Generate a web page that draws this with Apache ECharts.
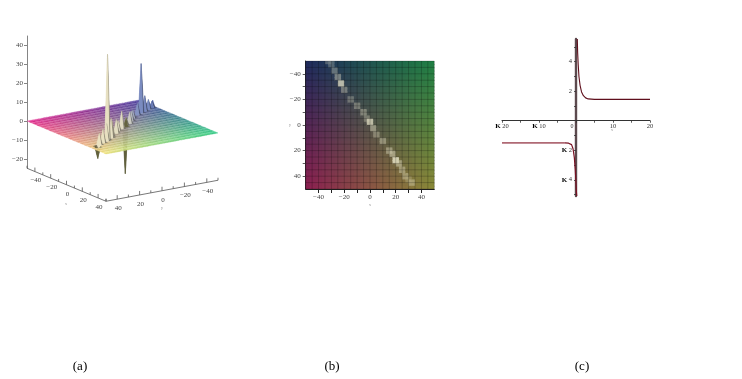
<!DOCTYPE html>
<html>
<head>
<meta charset="utf-8">
<style>html,body{margin:0;padding:0;background:#fff}#main{width:742px;height:379px;filter:blur(0.35px)}</style>
<script src="https://cdn.jsdelivr.net/npm/echarts@6/dist/echarts.min.js"></script>
</head>
<body>
<div id="main"></div>
<script>
// ---- data ----
var surfaceAxis = [];            // grid nodes of the surface, filled just below
for (var n = -50; n <= 50; n += 2.5) surfaceAxis.push(n);
var ridgeX = [-32.5,-30,-27.5,-25,-22.5,-20,-15,-10,-5,-2.5,0,2.5,5,10,15,17.5,20,22.5,25,27.5,30,32.5];
var ridgeY = [-50,-47.5,-42.5,-37.5,-32.5,-27.5,-20,-15,-10,-5,-2.5,2.5,7.5,12.5,20,22.5,27.5,30,35,40,42.5,45];
var ridgeZ = [3,3,5,8,26,6,4,5,6,4,-25,9,5,7,8,10,45,9,7,6,-2,-6];
var boxTicks = [-50,-40,-30,-20,-10,0,10,20,30,40,50];
var boxLabels = [-40,-20,0,20,40];
var zTicks = [-20,-10,0,10,20,30,40];
var mapLines = [-50,-45,-40,-35,-30,-25,-20,-15,-10,-5,0,5,10,15,20,25,30,35,40,45,50];
var rightX = [0.35,0.45,0.6,0.8,1.1,1.5,2,2.6,3.3,5,10,20];
var rightY = [5.54,4.6,3.8,3.0,2.4,1.95,1.7,1.55,1.48,1.45,1.45,1.45];
var leftFlatX = [-20,-10,-3];
var leftFlatY = [-1.5,-1.5,-1.5];
var leftBendX = [-3,-2,-1.2,-0.8,-0.45,-0.2,-0.05,0.1,0.2];
var leftBendY = [-1.5,-1.52,-1.62,-1.9,-2.5,-3.3,-4,-4.8,-5.1];
var curveXTicks = [-20,-15,-10,-5,0,5,10,15,20];
var curveXLabels = [-20,-10,0,10,20];
var curveYTicks = [-5,-4,-3,-2,-1,1,2,3,4,5];
var curveYLabels = [-4,-2,2,4];
var captions = ['(a)','(b)','(c)'];

// ---- surface table built from the arrays above ----
function nodeIndex(v){ return Math.round((v + 50) / 2.5); }
var zTable = surfaceAxis.map(function(){ return surfaceAxis.map(function(){ return 0; }); });
ridgeX.forEach(function(x, k){ zTable[nodeIndex(x)][nodeIndex(ridgeY[k])] = ridgeZ[k]; });
var quads = [];
for (var i = 0; i < surfaceAxis.length - 1; i++) {
  for (var j = 0; j < surfaceAxis.length - 1; j++) {
    quads.push([surfaceAxis[i], surfaceAxis[j], zTable[i][j], zTable[i+1][j], zTable[i+1][j+1], zTable[i][j+1], i]);
  }
}

// ---- view of panel (a) and colours ----
var serif = '"Liberation Serif", serif';
function proj(x, y, z){ return [122.5 + 0.79*x - 1.12*y, 127 + 0.33*x + 0.21*y - 1.89*z]; }
function hex(c){ return [parseInt(c.substr(1,2),16),parseInt(c.substr(3,2),16),parseInt(c.substr(5,2),16)]; }
function mix(a,b,t){ return [a[0]+(b[0]-a[0])*t, a[1]+(b[1]-a[1])*t, a[2]+(b[2]-a[2])*t]; }
function css(c){ return 'rgb('+Math.round(c[0])+','+Math.round(c[1])+','+Math.round(c[2])+')'; }
function corner(c, x, y){ // c = [x-,y-], [x+,y-], [x-,y+], [x+,y+]
  var s=(x+50)/100, t=(y+50)/100;
  return mix(mix(c[0],c[1],s), mix(c[2],c[3],s), t);
}
var surfCorners = [hex('#4436a0'),hex('#30d488'),hex('#e8208c'),hex('#f8ee80')];
var mapCorners  = [hex('#1e2a5c'),hex('#1f7f44'),hex('#8c1f50'),hex('#8a8a38')];
var pale = hex('#ece8cc'), paleBack = hex('#7f92c8'), white = [255,255,255], dark = hex('#45451f'), black=[0,0,0];

function renderSurface(params, api){
  var x=api.value(0), y=api.value(1), z1=api.value(2), z2=api.value(3), z3=api.value(4), z4=api.value(5), i=api.value(6);
  var pts=[proj(x,y,z1),proj(x+2.5,y,z2),proj(x+2.5,y+2.5,z3),proj(x,y+2.5,z4)].map(function(p){return api.coord(p);});
  var base=corner(surfCorners,x+1.25,y+1.25);
  var flat=(z1===0&&z2===0&&z3===0&&z4===0);
  var col;
  if(flat){
    col = (i%2===0) ? mix(base,white,0.2) : mix(base,black,0.06);
  } else {
    var gx=((z2+z3)-(z1+z4))/5, gy=((z3+z4)-(z1+z2))/5;
    var steep=Math.min(1,Math.sqrt(gx*gx+gy*gy)/1.2);
    var tint=mix(paleBack,pale,Math.min(1,Math.max(0,(y+30)/25)));
    col=mix(base,tint,steep*0.85);
    var du=-0.79*gx+1.12*gy, dl=Math.sqrt(gx*gx+gy*gy)*1.37||1;
    col=mix(col,black,Math.max(0,du/dl)*0.5);
    if(Math.min(z1,z2,z3,z4)<-3) col=mix(col,dark,0.8);
  }
  var c=css(col);
  return {type:'polygon',shape:{points:pts},style:{fill:c,stroke:c,lineWidth:0.3}};
}
function axisPiece(api, a, b){
  var p=api.coord(a), q=api.coord(b);
  return {type:'line',shape:{x1:p[0],y1:p[1],x2:q[0],y2:q[1]},style:{stroke:'#555',lineWidth:0.8}};
}
function boxTickRender(which){
  return function(params, api){
    var t=api.value(0), zBottom=-25;
    var pos=(which==='x')?proj(t,50,zBottom):proj(50,t,zBottom);
    var major=boxLabels.indexOf(t)>=0;
    var top=[pos[0],pos[1]-(major?4:2.5)];
    var kids=[axisPiece(api,pos,top)];
    if(major){
      var c=api.coord([pos[0]+1,pos[1]+9]);
      kids.push({type:'text',style:{text:(t<0?'\u2212':'')+Math.abs(t),x:c[0],y:c[1],align:'center',verticalAlign:'middle',font:'7px '+serif,fill:'#444'}});
    }
    return {type:'group',children:kids};
  };
}
function renderBoxLine(params, api){
  return {type:'group',children:[
    axisPiece(api,proj(-50,50,-25),proj(50,50,-25)),
    axisPiece(api,proj(50,50,-25),proj(50,-50,-25))
  ]};
}
function nodeZ(x,y){ return zTable[nodeIndex(x)][nodeIndex(y)]; }
function renderCell(params, api){
  var x=api.value(0), y=api.value(1);
  var p=api.coord([x,y]), q=api.coord([Math.min(x+3.2,50),Math.min(y+3.2,50)]);
  var m=(Math.abs(nodeZ(x,y))+Math.abs(nodeZ(x+2.5,y))+Math.abs(nodeZ(x+2.5,y+2.5))+Math.abs(nodeZ(x,y+2.5)))/4;
  var col=mix(corner(mapCorners,x+1.25,y+1.25),pale,Math.min(0.8,0.28*Math.sqrt(m)));
  return {type:'rect',shape:{x:p[0],y:p[1],width:q[0]-p[0],height:q[1]-p[1]},style:{fill:css(col)}};
}
function renderMapLine(params, api){
  var v=api.value(0);
  var a=api.coord([v,-50]), b=api.coord([v,50]), c=api.coord([-50,v]), d=api.coord([50,v]);
  var st={stroke:'rgba(0,0,0,0.25)',lineWidth:0.8};
  return {type:'group',children:[
    {type:'line',shape:{x1:a[0],y1:a[1],x2:b[0],y2:b[1]},style:st},
    {type:'line',shape:{x1:c[0],y1:c[1],x2:d[0],y2:d[1]},style:st}
  ]};
}
var mapCells=[];
surfaceAxis.slice(0,-1).forEach(function(x){ surfaceAxis.slice(0,-1).forEach(function(y){ mapCells.push([x,y]); }); });
function zip(a,b){ return a.map(function(v,k){ return [v,b[k]]; }); }
function minusFmt(v){ return (v<0?'\u2212':'')+Math.abs(v); }
function kFmt(v){ return v<0 ? '{k|K} '+Math.abs(v) : (v===0 ? '{z|0}' : ''+v); }
var kRich={k:{fontFamily:serif,fontWeight:'bold',fontSize:7,color:'#000'},z:{fontFamily:serif,fontSize:6,color:'#333',padding:[0,8,0,0]}};

var option={
  backgroundColor:'#fff',
  animation:false,
  title:captions.map(function(t,k){
    return {text:t,left:[75,327,577][k],top:355,textAlign:'center',textStyle:{fontFamily:serif,fontSize:13,fontWeight:'normal',color:'#000'}};
  }),
  grid:[
    {left:0,top:0,width:742,height:379},
    {left:27,top:36,width:1,height:132.3},
    {left:305.7,top:61,width:128.6,height:128},
    {left:502,top:39,width:148,height:157}
  ],
  xAxis:[
    {gridIndex:0,type:'value',min:0,max:742,show:false},
    {gridIndex:1,type:'value',min:0,max:1,show:false},
    {gridIndex:2,type:'value',min:-50,max:50,interval:10,position:'bottom',splitLine:{show:false},
      axisLine:{onZero:false,lineStyle:{color:'#222',width:1}},axisTick:{length:4,lineStyle:{color:'#222',width:1}},
      axisLabel:{margin:5,fontFamily:serif,fontSize:7,color:'#444',showMinLabel:false,showMaxLabel:false,
        formatter:function(v){return v%20===0?minusFmt(v):'';}}},
    {gridIndex:3,type:'value',min:-20,max:20,splitLine:{show:false},
      axisLine:{onZero:true,lineStyle:{color:'#333',width:1}},
      axisTick:{show:true,inside:false,length:2,customValues:curveXTicks,lineStyle:{color:'#333',width:0.8}},
      axisLabel:{margin:-73,fontFamily:serif,fontSize:6.5,color:'#333',customValues:curveXLabels,rich:kRich,formatter:kFmt}}
  ],
  yAxis:[
    {gridIndex:0,type:'value',min:0,max:379,inverse:true,show:false},
    {gridIndex:1,type:'value',min:-25,max:45,position:'left',splitLine:{show:false},
      axisLine:{onZero:false,lineStyle:{color:'#666',width:0.8}},
      axisTick:{length:3,customValues:zTicks,lineStyle:{color:'#666',width:0.8}},
      axisLabel:{margin:4,fontFamily:serif,fontSize:7,color:'#444',customValues:zTicks,formatter:minusFmt}},
    {gridIndex:2,type:'value',min:-50,max:50,interval:10,inverse:true,position:'left',splitLine:{show:false},
      axisLine:{onZero:false,lineStyle:{color:'#222',width:1}},axisTick:{length:3,lineStyle:{color:'#333',width:0.8}},
      axisLabel:{margin:5,fontFamily:serif,fontSize:7,color:'#444',showMinLabel:false,showMaxLabel:false,
        formatter:function(v){return v%20===0?minusFmt(v):'';}}},
    {gridIndex:3,type:'value',min:-5.1,max:5.54,splitLine:{show:false},
      axisLine:{onZero:true,lineStyle:{color:'#5c4a4e',width:2.4}},
      axisTick:{show:true,length:2,customValues:curveYTicks,lineStyle:{color:'#333',width:0.8}},
      axisLabel:{margin:-70,fontFamily:serif,fontSize:6.5,color:'#333',customValues:curveYLabels,rich:kRich,formatter:kFmt}}
  ],
  graphic:[
    {type:'text',x:66,y:203,style:{text:'x',font:'3px '+serif,fill:'#666',align:'center'}},
    {type:'text',x:162,y:207,style:{text:'y',font:'3px '+serif,fill:'#666',align:'center'}},
    {type:'text',x:370,y:204,style:{text:'x',font:'3px '+serif,fill:'#666',align:'center'}},
    {type:'text',x:290,y:124,style:{text:'y',font:'3px '+serif,fill:'#666',align:'center'}},
    {type:'text',x:612,y:129,style:{text:'x',font:'3px '+serif,fill:'#666',align:'center'}}
  ],
  series:[
    {name:'surface',type:'custom',xAxisIndex:0,yAxisIndex:0,coordinateSystem:'cartesian2d',renderItem:renderSurface,data:quads,silent:true,progressive:0,clip:false,encode:{x:0,y:1}},
    {name:'box',type:'custom',xAxisIndex:0,yAxisIndex:0,renderItem:renderBoxLine,data:[[0,0]],silent:true,clip:false},
    {name:'x ticks',type:'custom',xAxisIndex:0,yAxisIndex:0,renderItem:boxTickRender('x'),data:boxTicks.map(function(t){return [t];}),silent:true,clip:false,encode:{x:0}},
    {name:'y ticks',type:'custom',xAxisIndex:0,yAxisIndex:0,renderItem:boxTickRender('y'),data:boxTicks.map(function(t){return [t];}),silent:true,clip:false,encode:{x:0}},
    {name:'map',type:'custom',xAxisIndex:2,yAxisIndex:2,renderItem:renderCell,data:mapCells,silent:true,progressive:0,encode:{x:0,y:1}},
    {name:'map lines',type:'custom',xAxisIndex:2,yAxisIndex:2,renderItem:renderMapLine,data:mapLines.map(function(v){return [v];}),silent:true,z:3,encode:{x:0}},
    {name:'right branch',type:'line',xAxisIndex:3,yAxisIndex:3,data:zip(rightX,rightY),showSymbol:false,smooth:false,z:4,lineStyle:{color:'#5f0f1c',width:1.1},silent:true},
    {name:'left flat',type:'line',xAxisIndex:3,yAxisIndex:3,data:zip(leftFlatX,leftFlatY),showSymbol:false,z:4,lineStyle:{color:'#b06a75',width:1.8},silent:true},
    {name:'left bend',type:'line',xAxisIndex:3,yAxisIndex:3,data:zip(leftBendX,leftBendY),showSymbol:false,z:4,lineStyle:{color:'#7a1224',width:1.2},silent:true}
  ]
};
var chart=echarts.init(document.getElementById('main'),null,{renderer:'canvas'});
chart.setOption(option);
</script>
</body>
</html>
